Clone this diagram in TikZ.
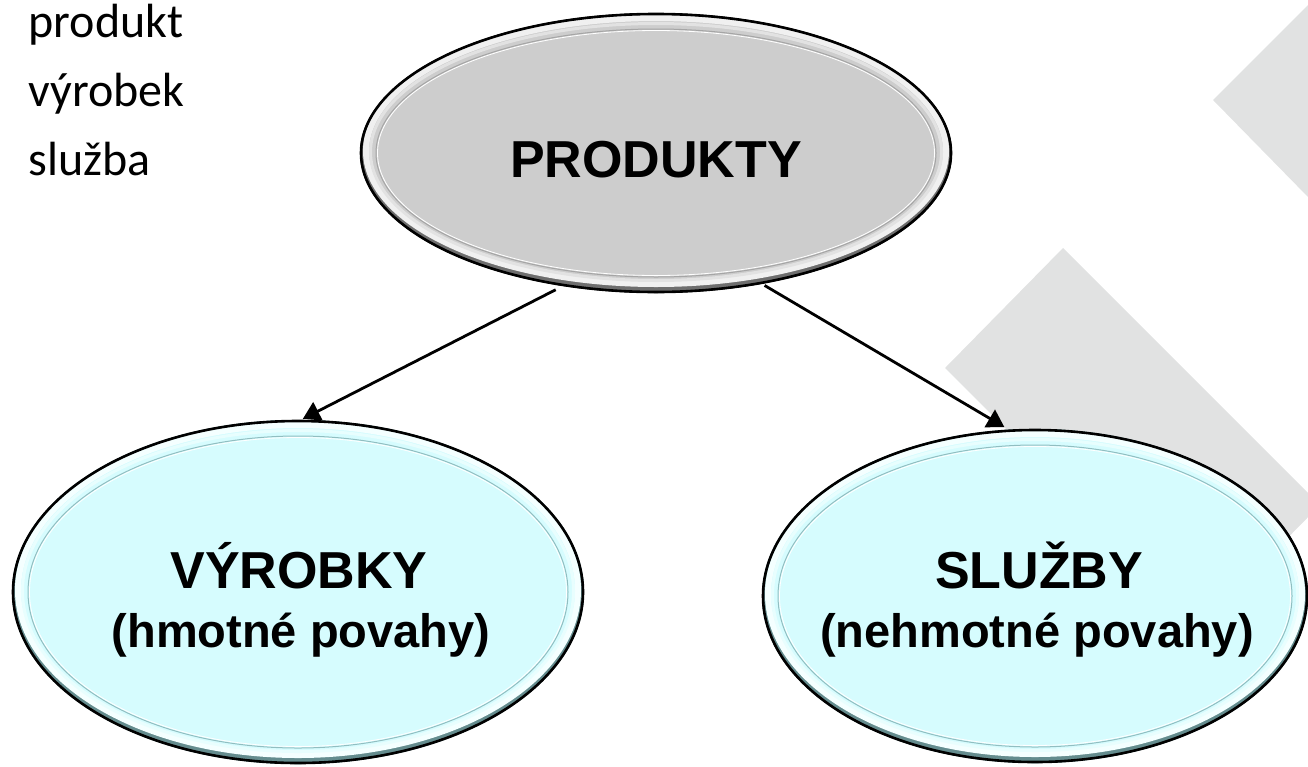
\documentclass[tikz,border=0pt]{standalone}
\usepackage{fontspec}
\setmainfont{Liberation Sans}
\newfontfamily\calib{Carlito}
\usetikzlibrary{shapes.geometric,arrows.meta}
\definecolor{bgtri}{RGB}{225,226,226}
\definecolor{greyfill}{RGB}{205,205,205}
\definecolor{greyrim}{RGB}{240,240,240}
\definecolor{greyshade}{RGB}{110,110,110}
\definecolor{greyline}{RGB}{165,165,165}
\definecolor{cyanfill}{RGB}{214,252,254}
\definecolor{cyanrim}{RGB}{244,255,255}
\definecolor{cyanshade}{RGB}{100,140,142}
\definecolor{cyanline}{RGB}{145,190,193}
\newcommand\bevelell[8]{%
  \begin{scope}
    \clip (#1,#2) ellipse [x radius=#3, y radius=#4];
    \fill[#5] (#1,#2) ellipse [x radius=#3, y radius=#4];
    \draw[#7!45!#5, line width=16] (#1,#2-5) ellipse [x radius=#3+1, y radius=#4];
    \draw[#7, line width=8] (#1,#2-3) ellipse [x radius=#3+1, y radius=#4];
    \draw[#6, line width=6] (#1,#2-2) ellipse [x radius=#3-6, y radius=#4-7];
    \draw[#6!60!#5, line width=3] (#1,#2-1) ellipse [x radius=#3-10.5, y radius=#4-11.5];
    \draw[#8, line width=1] (#1,#2) ellipse [x radius=#3-16, y radius=#4-16];
    \draw[white, line width=0.8] (#1,#2) ellipse [x radius=#3-17.5, y radius=#4-17.5];
  \end{scope}
  \draw[black, line width=2.6] (#1,#2) ellipse [x radius=#3-1, y radius=#4-1];
}
\tikzset{
  ellnode/.style={ellipse, draw=none, inner sep=0pt},
  bigtxt/.style={anchor=base, font=\bfseries\fontsize{52}{56}\selectfont},
  subtxt/.style={anchor=base, font=\bfseries\fontsize{47}{52}\selectfont},
  sidetxt/.style={anchor=base west, font=\calib\fontsize{48}{52}\selectfont},
  arrowline/.style={line width=2.8pt, -{Triangle[length=17pt,width=20pt]}}
}
\begin{document}
\begin{tikzpicture}[x=1pt,y=-1pt]
\useasboundingbox (0,0) rectangle (1308,766);
% background decorative shapes
\fill[bgtri] (1213,100) -- (1308,5) -- (1308,197) -- cycle;
\fill[bgtri] (945,368) -- (1063,248) -- (1320,505) -- (1202,625) -- cycle;
% ellipses
\bevelell{656}{153}{296}{140}{greyfill}{greyrim}{greyshade}{greyline}
\bevelell{298}{592}{286}{172}{cyanfill}{cyanrim}{cyanshade}{cyanline}
\bevelell{1035}{596}{273}{167}{cyanfill}{cyanrim}{cyanshade}{cyanline}
\node[ellnode, minimum width=592pt, minimum height=280pt] (top) at (656,153) {};
\node[ellnode, minimum width=572pt, minimum height=344pt] (left) at (298,592) {};
\node[ellnode, minimum width=546pt, minimum height=334pt] (right) at (1035,596) {};
% texts
\node[bigtxt] (ttop) at (656,177) {PRODUKTY};
\node[bigtxt] (tl1) at (299,588) {VÝROBKY};
\node[subtxt] (tl2) at (301,647) {(hmotné povahy)};
\node[bigtxt] (tr1) at (1039,588) {SLUŽBY};
\node[subtxt] (tr2) at (1037,647) {(nehmotné povahy)};
\node[sidetxt] (s1) at (25,37) {produkt};
\node[sidetxt] (s2) at (25,106) {výrobek};
\node[sidetxt] (s3) at (25,175) {služba};
% connectors
\draw[arrowline, shorten <=8pt, shorten >=2pt] (top.235) -- (left.89);
\draw[arrowline, shorten <=3pt, shorten >=5pt] (top.309) -- (right.99);
\end{tikzpicture}
\end{document}
